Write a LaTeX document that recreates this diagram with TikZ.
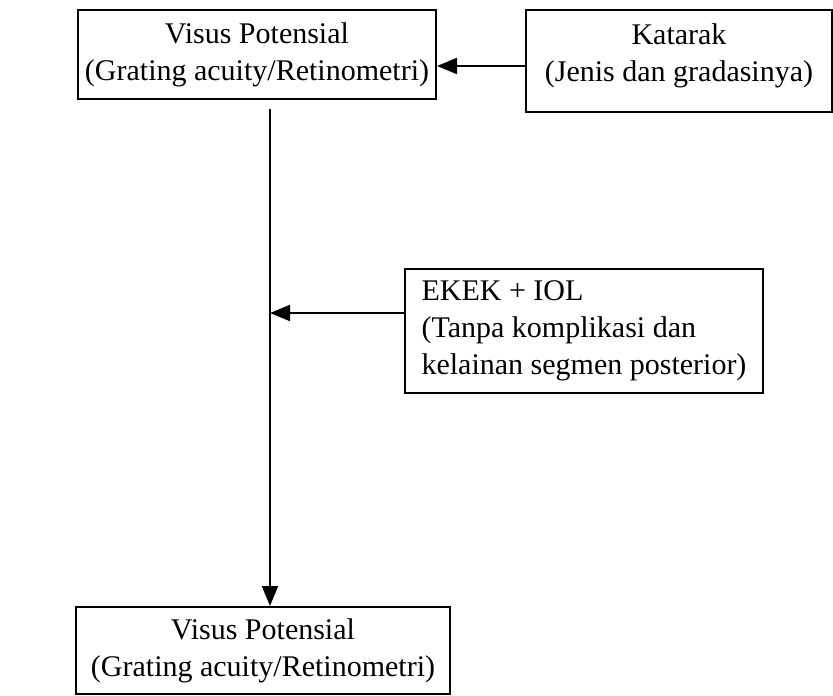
\documentclass[tikz,border=0pt]{standalone}
\usepackage{fontspec}
\setmainfont{Liberation Serif}
\usetikzlibrary{arrows.meta}
\begin{document}
\begin{tikzpicture}[x=1pt,y=-1pt,
  box/.style={draw, line width=2pt, inner sep=0pt, align=center,
    font=\fontsize{30}{37}\selectfont},
  link/.style={line width=2pt, -{Triangle[length=20pt,width=16pt]}}]
\useasboundingbox (0,0) rectangle (833,696);

% boxes
\node[box, minimum width=358pt, minimum height=89pt] (A) at (257,54.5)
  {Visus Potensial\\(Grating acuity/Retinometri)};
\node[box, minimum width=306pt, minimum height=102pt] (B) at (679,61)
  {Katarak\\(Jenis dan gradasinya)\rule[-16pt]{0pt}{0pt}};
\node[box, align=left, minimum width=358pt, minimum height=124pt]
  (C) at (584,331)
  {EKEK + IOL\\(Tanpa komplikasi dan\\kelainan segmen posterior)};
\node[box, minimum width=374pt, minimum height=87pt] (D) at (263,650.5)
  {Visus Potensial\\(Grating acuity/Retinometri)};

% connectors
\coordinate (h) at (0,66);
\coordinate (top) at (270,109);
\coordinate (j) at (270,313);
\draw[link] (B.west |- h) -- (A.east |- h);
\draw[link] (top) -- (top |- D.north);
\draw[link] (C.west |- j) -- (j);
\end{tikzpicture}
\end{document}
